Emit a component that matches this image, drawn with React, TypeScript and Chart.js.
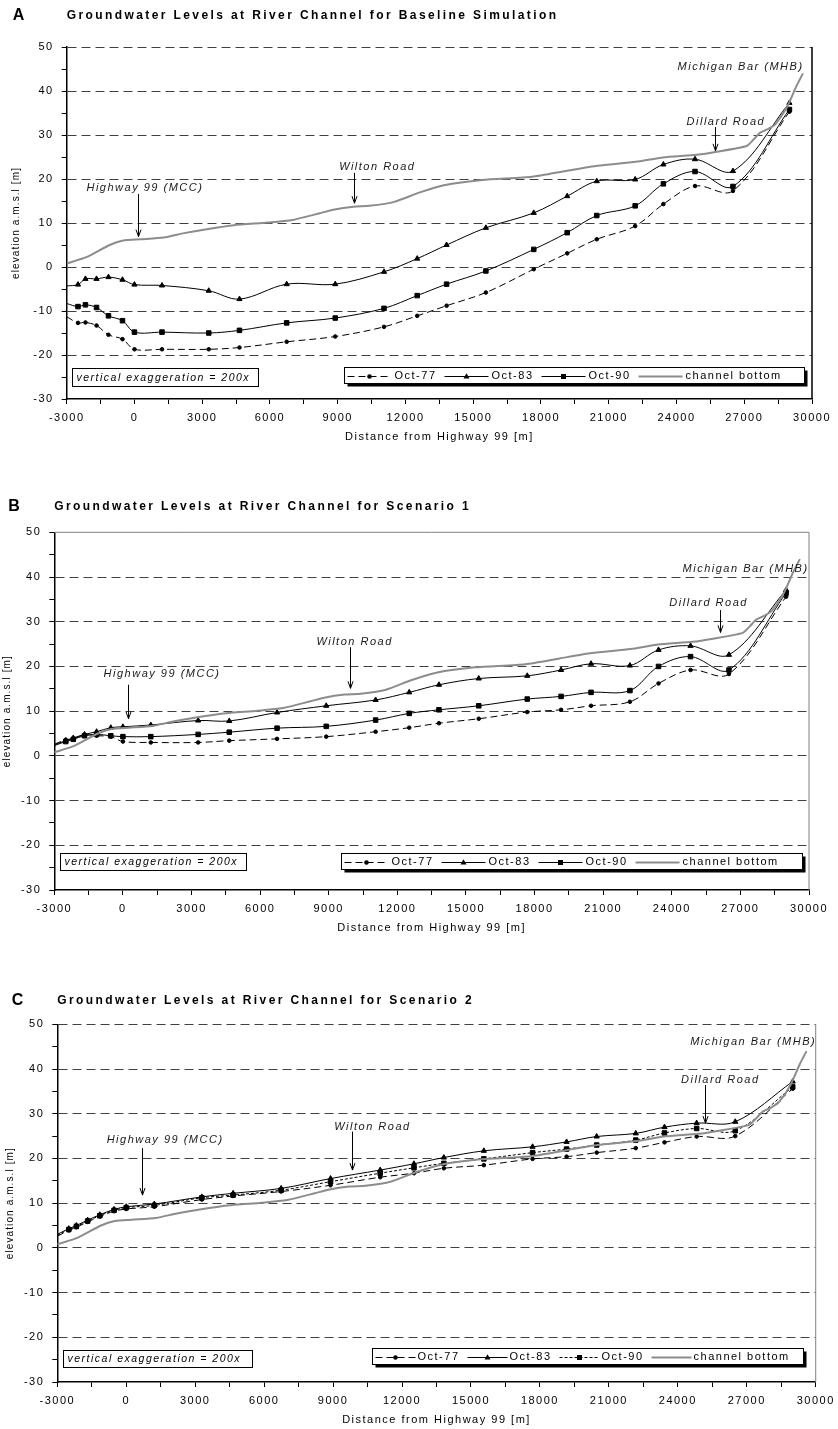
import React, { useEffect, useRef } from "react";
import { Chart, registerables } from "chart.js";

Chart.register(...registerables);

const FONT = '"Liberation Sans", Arial, Helvetica, sans-serif';
Chart.defaults.font.family = FONT;

// distance of simulated nodes along the river [m]
const DIST = [-3000, -2500, -2170, -1680, -1150, -530, 0, 1220, 3290, 4650, 6740, 8890, 11050, 12520, 13820, 15560, 17680, 19160, 20470, 22170, 23420, 24820, 26500, 29000];

// channel bottom profile (same in all panels)
const CHANNEL_DIST = [-3000, -2100, -1100, -500, 250, 1300, 2200, 3200, 4400, 5900, 7000, 8200, 8800, 9700, 10400, 11500, 12600, 13700, 15400, 17600, 19100, 20500, 22200, 23400, 24900, 25800, 27100, 27400, 27700, 28100, 28400, 28900, 29300, 29600];
const CHANNEL_ELEV = [0.8, 2.3, 5.0, 6.0, 6.3, 6.7, 7.7, 8.6, 9.5, 10.1, 10.7, 12.2, 13.0, 13.7, 13.9, 14.8, 16.9, 18.6, 19.8, 20.5, 21.8, 23.0, 23.9, 24.9, 25.5, 26.2, 27.5, 28.9, 30.5, 31.5, 32.6, 36.4, 41.0, 44.0];

// A: baseline simulation
const BASE_OCT77 = [-11.3, -12.7, -12.6, -13.3, -15.4, -16.4, -18.7, -18.7, -18.7, -18.3, -17.0, -15.8, -13.6, -11.1, -8.8, -5.8, -0.5, 3.1, 6.3, 9.3, 14.3, 18.4, 17.3, 35.3];
const BASE_OCT83 = [-4.3, -4.0, -2.7, -2.7, -2.3, -2.9, -4.0, -4.2, -5.4, -7.3, -3.9, -3.9, -1.1, 1.9, 5.0, 8.9, 12.3, 16.1, 19.5, 19.9, 23.3, 24.5, 21.8, 37.3];
const BASE_OCT90 = [-8.3, -9.0, -8.6, -9.2, -11.1, -12.2, -14.8, -14.8, -15.0, -14.4, -12.7, -11.6, -9.4, -6.5, -3.9, -0.9, 4.0, 7.8, 11.7, 13.9, 18.9, 21.7, 18.3, 35.8];

// B: scenario 1
const S1_OCT77 = [2.6, 3.6, 3.8, 4.7, 4.5, 4.3, 3.2, 3.0, 3.0, 3.4, 3.8, 4.3, 5.4, 6.3, 7.3, 8.3, 9.8, 10.3, 11.2, 12.1, 16.2, 19.2, 18.3, 35.6];
const S1_OCT83 = [2.5, 3.4, 4.0, 4.8, 5.4, 6.3, 6.5, 6.9, 7.9, 7.8, 9.7, 11.2, 12.5, 14.2, 15.9, 17.3, 17.9, 19.2, 20.6, 20.2, 23.7, 24.6, 22.6, 37.1];
const S1_OCT90 = [2.3, 3.2, 3.7, 4.5, 4.8, 4.5, 4.3, 4.3, 4.8, 5.3, 6.2, 6.6, 8.0, 9.5, 10.3, 11.2, 12.7, 13.3, 14.2, 14.6, 20.0, 22.2, 19.2, 36.4];

// C: scenario 2
const S2_OCT77 = [2.6, 3.9, 4.6, 5.8, 7.0, 8.2, 8.7, 9.2, 10.8, 11.6, 12.6, 14.0, 15.8, 16.7, 17.8, 18.5, 19.9, 20.4, 21.3, 22.3, 23.6, 24.9, 25.0, 35.6];
const S2_OCT83 = [3.0, 4.3, 5.0, 6.2, 7.4, 8.6, 9.2, 9.8, 11.4, 12.2, 13.3, 15.5, 17.4, 18.8, 20.2, 21.7, 22.6, 23.7, 24.9, 25.6, 27.0, 27.9, 28.2, 37.2];
const S2_OCT90 = [2.8, 4.1, 4.8, 6.0, 7.2, 8.4, 9.0, 9.5, 11.2, 11.8, 12.9, 14.8, 16.7, 17.9, 18.9, 19.9, 21.3, 22.1, 23.0, 24.1, 25.7, 26.7, 26.2, 36.0];

const X_MIN = -3000;
const X_MAX = 30000;
const X_STEP = 1500;
const X_LABEL_EVERY = 3000;
const Y_MIN = -30;
const Y_MAX = 50;
const Y_STEP = 5;
const Y_LABEL_EVERY = 10;

const SERIES = ["Oct-77", "Oct-83", "Oct-90", "channel bottom"];
const X_TITLE = "Distance from Highway 99 [m]";
const Y_TITLE = "elevation a.m.s.l [m]";
const EXAG = "vertical exaggeration = 200x";
const TITLE_STEM = "Groundwater Levels at River Channel for ";

const NOTES_A = [
  { text: "Highway 99 (MCC)", d: 464, v: 18.0, arrow: [168, 16.6, 6.9] },
  { text: "Wilton Road", d: 10752, v: 22.8, arrow: [9712, 21.4, 14.5] },
  { text: "Dillard Road", d: 26186, v: 33.0, arrow: [25684, 31.8, 26.4] },
  { text: "Michigan Bar (MHB)", d: 26836, v: 45.5 },
];
const NOTES_B = [
  { text: "Highway 99 (MCC)", d: 1712, v: 18.3, arrow: [231, 15.9, 8.3] },
  { text: "Wilton Road", d: 10131, v: 25.4, arrow: [9913, 24.3, 15.1] },
  { text: "Dillard Road", d: 25611, v: 34.3, arrow: [26100, 32.6, 27.6] },
  { text: "Michigan Bar (MHB)", d: 27227, v: 41.7 },
];
const NOTES_C = [
  { text: "Highway 99 (MCC)", d: 1691, v: 24.1, arrow: [683, 22.3, 11.8] },
  { text: "Wilton Road", d: 10713, v: 27.1, arrow: [9826, 26.0, 17.4] },
  { text: "Dillard Road", d: 25848, v: 37.5, arrow: [25204, 36.4, 27.9] },
  { text: "Michigan Bar (MHB)", d: 27278, v: 46.1 },
];

const PANELS = [
  {
    letter: "A", title: TITLE_STEM + "Baseline Simulation",
    oct77: BASE_OCT77, oct83: BASE_OCT83, oct90: BASE_OCT90, oct90Dash: [] as number[], notes: NOTES_A,
    canvasTop: 0, canvasH: 460, left: 66.7, right: 812, top: 47, bottom: 399,
    letterX: 12.7, titleY: 16, yTitleX: 16.7, frameColor: "#000", frameWidth: 1.5, topSolid: false,
    legend: { x: 344, y: 367, w: 460, h: 16, sample: 44, gap: 3 },
    exag: { x: 72, y: 368, w: 186, h: 18 },
  },
  {
    letter: "B", title: TITLE_STEM + "Scenario 1",
    oct77: S1_OCT77, oct83: S1_OCT83, oct90: S1_OCT90, oct90Dash: [] as number[], notes: NOTES_B,
    canvasTop: 470, canvasH: 470, left: 54.3, right: 809, top: 532.3, bottom: 890,
    letterX: 8.3, titleY: 506.7, yTitleX: 7.5, frameColor: "#808080", frameWidth: 1, topSolid: true,
    legend: { x: 341, y: 853, w: 461, h: 16, sample: 44, gap: 3 },
    exag: { x: 60, y: 853, w: 186, h: 17 },
  },
  {
    letter: "C", title: TITLE_STEM + "Scenario 2",
    oct77: S2_OCT77, oct83: S2_OCT83, oct90: S2_OCT90, oct90Dash: [3, 2], notes: NOTES_C,
    canvasTop: 960, canvasH: 469, left: 57.3, right: 816, top: 1024.3, bottom: 1382,
    letterX: 11.7, titleY: 1001, yTitleX: 10.5, frameColor: "#808080", frameWidth: 1, topSolid: false,
    legend: { x: 372, y: 1348, w: 431, h: 16, sample: 40, gap: 2 },
    exag: { x: 63, y: 1350, w: 189, h: 17 },
  },
];

type PanelCfg = (typeof PANELS)[number];

function styles(p: PanelCfg) {
  return [
    { color: "#000", width: 1, dash: [7, 4], marker: "circle", radius: 1.8 },
    { color: "#000", width: 1, dash: [] as number[], marker: "triangle", radius: 3 },
    { color: "#000", width: 1, dash: p.oct90Dash, marker: "rect", radius: 3.2 },
    { color: "#8c8c8c", width: 2, dash: [] as number[], marker: null as any, radius: 0 },
  ];
}

function txt(ctx: any, s: string, x: number, y: number, font: string, spacing: number, align = "left", color = "#000") {
  ctx.font = font;
  ctx.letterSpacing = spacing + "px";
  ctx.textAlign = align;
  ctx.textBaseline = "middle";
  ctx.fillStyle = color;
  ctx.fillText(s, x, y);
}

function drawMarker(ctx: any, kind: string, x: number, y: number) {
  ctx.save();
  ctx.fillStyle = "#000";
  ctx.beginPath();
  if (kind === "circle") ctx.arc(x, y, 2.3, 0, Math.PI * 2);
  else if (kind === "triangle") {
    ctx.moveTo(x, y - 3.3);
    ctx.lineTo(x + 3, y + 2);
    ctx.lineTo(x - 3, y + 2);
    ctx.closePath();
  } else ctx.rect(x - 2.5, y - 2.5, 5, 5);
  ctx.fill();
  ctx.restore();
}

function makeDecor(p: PanelCfg) {
  return {
    id: "decor" + p.letter,
    beforeDraw(chart: any) {
      chart.ctx.letterSpacing = "1.5px";
    },
    afterDraw(chart: any) {
      const ctx = chart.ctx;
      const { left, right, top, bottom } = chart.chartArea;
      const xs = chart.scales.x;
      const ys = chart.scales.y;
      const X = (d: number) => xs.getPixelForValue(d);
      const Y = (v: number) => ys.getPixelForValue(v);
      const oy = p.canvasTop;
      ctx.save();

      // frame
      ctx.strokeStyle = p.frameColor;
      ctx.lineWidth = p.frameWidth;
      ctx.beginPath();
      ctx.moveTo(right, top);
      ctx.lineTo(right, bottom);
      if (p.topSolid) {
        ctx.moveTo(left, top);
        ctx.lineTo(right, top);
      }
      ctx.stroke();

      // panel letter + title
      txt(ctx, p.letter, p.letterX, p.titleY - oy, `bold 16px ${FONT}`, 0);
      txt(ctx, p.title, left, p.titleY - oy, `bold 12px ${FONT}`, 2.4);

      // axis titles
      txt(ctx, X_TITLE, (left + right) / 2, bottom + 38, `11px ${FONT}`, 1.5, "center");
      ctx.save();
      ctx.translate(p.yTitleX, (top + bottom) / 2);
      ctx.rotate(-Math.PI / 2);
      txt(ctx, Y_TITLE, 0, 0, `10px ${FONT}`, 1.1, "center");
      ctx.restore();

      // landmark annotations
      for (const n of p.notes) {
        txt(ctx, n.text, X(n.d), Y(n.v), `italic 11px ${FONT}`, 1.5, "center", "#1a1a1a");
        if (n.arrow) {
          const ax = Math.round(X(n.arrow[0])) + 0.5;
          const y1 = Y(n.arrow[1]);
          const y2 = Y(n.arrow[2]);
          ctx.strokeStyle = "#000";
          ctx.lineWidth = 1;
          ctx.setLineDash([]);
          ctx.beginPath();
          ctx.moveTo(ax, y1);
          ctx.lineTo(ax, y2);
          ctx.moveTo(ax - 2.5, y2 - 7);
          ctx.lineTo(ax, y2);
          ctx.lineTo(ax + 2.5, y2 - 7);
          ctx.stroke();
        }
      }

      // vertical exaggeration box
      const e = p.exag;
      const ey = Math.round(e.y - oy) + 0.5;
      const ex = Math.round(e.x) + 0.5;
      ctx.fillStyle = "#fff";
      ctx.fillRect(ex, ey, e.w, e.h);
      ctx.strokeStyle = "#000";
      ctx.lineWidth = 1;
      ctx.strokeRect(ex, ey, e.w, e.h);
      txt(ctx, EXAG, ex + 4, ey + e.h / 2 + 0.5, `italic 10.5px ${FONT}`, 1.5);

      // legend
      const L = p.legend;
      const lx = Math.round(L.x) + 0.5;
      const ly = Math.round(L.y - oy) + 0.5;
      ctx.fillStyle = "#000";
      ctx.fillRect(lx + 3, ly + 3, L.w, L.h);
      ctx.fillStyle = "#fff";
      ctx.fillRect(lx, ly, L.w, L.h);
      ctx.strokeStyle = "#000";
      ctx.lineWidth = 1;
      ctx.strokeRect(lx, ly, L.w, L.h);
      const st = styles(p);
      let x = lx + 3;
      const cy = ly + L.h / 2;
      st.forEach((s, i) => {
        ctx.save();
        ctx.strokeStyle = s.color;
        ctx.lineWidth = s.width;
        ctx.setLineDash(s.dash);
        ctx.beginPath();
        ctx.moveTo(x, Math.round(cy) + 0.5);
        ctx.lineTo(x + L.sample, Math.round(cy) + 0.5);
        ctx.stroke();
        ctx.restore();
        if (s.marker) drawMarker(ctx, s.marker, x + L.sample / 2, Math.round(cy) + 0.5);
        x += L.sample + L.gap;
        txt(ctx, SERIES[i], x, cy + 0.5, `11px ${FONT}`, 1.5);
        x += ctx.measureText(SERIES[i]).width + 8;
      });

      ctx.restore();
      ctx.letterSpacing = "0px";
    },
  };
}

function PanelChart({ p }: { p: PanelCfg }) {
  const ref = useRef<HTMLCanvasElement>(null);
  useEffect(() => {
    const st = styles(p);
    const series = [p.oct77, p.oct83, p.oct90];
    const datasets: any[] = series.map((vals, i) => ({
      label: SERIES[i],
      data: DIST.map((d, k) => ({ x: d, y: vals[k] })),
      borderColor: st[i].color,
      borderWidth: st[i].width,
      borderDash: st[i].dash,
      pointStyle: st[i].marker,
      pointRadius: (c: any) => (c.dataIndex === 0 ? 0 : st[i].radius),
      pointBackgroundColor: "#000",
      pointBorderColor: "#000",
      pointBorderWidth: 1,
      tension: 0.35,
      fill: false,
      order: i + 1,
    }));
    datasets.push({
      label: SERIES[3],
      data: CHANNEL_DIST.map((d, k) => ({ x: d, y: CHANNEL_ELEV[k] })),
      borderColor: st[3].color,
      borderWidth: st[3].width,
      pointRadius: 0,
      tension: 0.2,
      fill: false,
      order: 0,
    });
    const plotTop = p.top - p.canvasTop;
    const plotBottom = p.bottom - p.canvasTop;
    const chart = new Chart(ref.current as HTMLCanvasElement, {
      type: "line",
      data: { datasets },
      options: {
        responsive: false,
        animation: false,
        devicePixelRatio: 1,
        events: [],
        layout: { padding: { left: 0, top: plotTop, right: 838 - p.right, bottom: 0 } },
        plugins: { legend: { display: false }, tooltip: { enabled: false }, title: { display: false } },
        scales: {
          x: {
            type: "linear",
            min: X_MIN,
            max: X_MAX,
            ticks: {
              stepSize: X_STEP,
              autoSkip: false,
              maxRotation: 0,
              padding: 7,
              color: "#000",
              font: { family: FONT, size: 11 },
              callback: (v: any) => (Number(v) % X_LABEL_EVERY === 0 ? String(v) : ""),
            },
            grid: { drawOnChartArea: false, drawTicks: true, tickLength: 5, tickColor: "#000", tickWidth: 1 },
            border: { display: true, color: "#000", width: 1.5 },
            afterFit: (s: any) => {
              s.height = p.canvasH - plotBottom;
            },
          } as any,
          y: {
            type: "linear",
            min: Y_MIN,
            max: Y_MAX,
            ticks: {
              stepSize: Y_STEP,
              autoSkip: false,
              padding: 8,
              color: "#000",
              font: { family: FONT, size: 11 },
              callback: (v: any) => (Number(v) % Y_LABEL_EVERY === 0 ? String(v) : ""),
            },
            grid: {
              color: (c: any) => {
                const v = c.tick ? c.tick.value : null;
                if (v === null || v % Y_LABEL_EVERY !== 0 || v === Y_MIN) return "rgba(0,0,0,0)";
                if (v === Y_MAX && p.topSolid) return "rgba(0,0,0,0)";
                return "#404040";
              },
              lineWidth: 1,
              tickLength: 5,
              tickColor: "#000",
              tickWidth: 1,
            },
            border: { display: true, color: "#000", width: 1.5, dash: [9, 5] },
            afterFit: (s: any) => {
              s.width = p.left;
            },
          } as any,
        },
      },
      plugins: [makeDecor(p)],
    } as any);
    return () => chart.destroy();
  }, []);
  return (
    <canvas
      ref={ref}
      width={838}
      height={p.canvasH}
      style={{ position: "absolute", left: 0, top: p.canvasTop, width: 838, height: p.canvasH }}
    />
  );
}

export default function App() {
  return (
    <div style={{ position: "absolute", left: 0, top: 0, width: 838, height: 1429, background: "#fff", overflow: "hidden" }}>
      {PANELS.map((p) => (
        <PanelChart key={p.letter} p={p} />
      ))}
    </div>
  );
}
